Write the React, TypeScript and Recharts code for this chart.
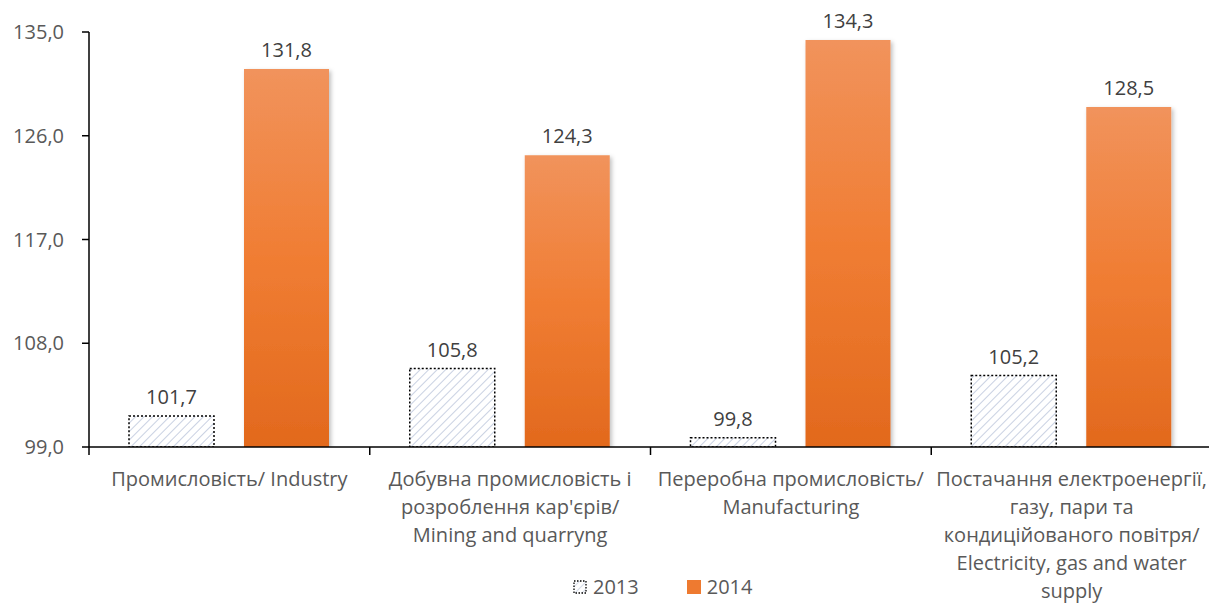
import React from "react";
import { BarChart, Bar, XAxis, YAxis, LabelList } from "recharts";

const categories = [
  "Промисловість/ Industry",
  "Добувна промисловість і розроблення кар'єрів/ Mining and quarryng",
  "Переробна промисловість/ Manufacturing",
  "Постачання електроенергії, газу, пари та кондиційованого повітря/ Electricity, gas and water supply",
];
const categoryLines: string[][] = [
  ["Промисловість/ Industry"],
  ["Добувна промисловість і", "розроблення кар'єрів/", "Mining and quarryng"],
  ["Переробна промисловість/", "Manufacturing"],
  ["Постачання електроенергії,", "газу, пари та", "кондиційованого повітря/", "Electricity, gas and water", "supply"],
];
const seriesNames = ["2013", "2014"];
const values2013 = [101.7, 105.8, 99.8, 105.2];
const values2014 = [131.8, 124.3, 134.3, 128.5];
const yTicks = [99, 108, 117, 126, 135];

const data = categories.map((c, i) => ({ name: c, idx: i, y2013: values2013[i], y2014: values2014[i] }));

const FONT = "'Open Sans', sans-serif";
const FS = 20;
const W = 1217;
const H = 606;
const ML = 89;
const MR = 5;
const BAND = (W - ML - MR) / categories.length;

const fmt = (v: number) => v.toFixed(1).replace(".", ",");

const XTick = (props: any) => {
  const { x, y, payload, index } = props;
  const i0 = payload.index ?? index;
  const lines = categoryLines[i0] || [];
  const left = x - BAND / 2;
  const right = x + BAND / 2;
  const isLast = i0 === categories.length - 1;
  return (
    <g>
      <line x1={left} x2={left} y1={y - 8} y2={y} stroke="#000" strokeWidth={1.5} />
      {isLast && <line x1={right} x2={right} y1={y - 8} y2={y} stroke="#000" strokeWidth={1.5} />}
      <text x={x} y={y} textAnchor="middle" fill="#595959" fontFamily={FONT} fontSize={FS}>
        {lines.map((l, i) => (
          <tspan key={i} x={x} dy={i === 0 ? 30.5 : 28.2}>
            {l}
          </tspan>
        ))}
      </text>
    </g>
  );
};

const LegendBox = () => (
  <div
    style={{
      position: "absolute",
      top: 574,
      left: 573,
      display: "flex",
      fontFamily: FONT,
      fontSize: FS,
      color: "#595959",
      lineHeight: "26px",
      whiteSpace: "nowrap",
    }}
  >
    <svg width={15} height={15} style={{ marginTop: 6, marginRight: 5 }}>
      <defs>
        <pattern id="hatchL" width="5" height="5" patternUnits="userSpaceOnUse" patternTransform="rotate(45)">
          <rect width="5" height="5" fill="#ffffff" />
          <line x1="0" y1="0" x2="0" y2="5" stroke="#C9D1E2" strokeWidth={1.5} />
        </pattern>
      </defs>
      <rect x={1} y={1} width={12} height={12} fill="url(#hatchL)" stroke="#000" strokeWidth={1.3} strokeDasharray="1.5 1.5" />
    </svg>
    <span style={{ marginRight: 48 }}>{seriesNames[0]}</span>
    <svg width={15} height={15} style={{ marginTop: 6, marginRight: 5 }}>
      <rect x={0} y={0} width={14} height={14} fill="#EE7A30" />
    </svg>
    <span>{seriesNames[1]}</span>
  </div>
);

export default function App() {
  return (
    <div style={{ width: W, height: H, position: "relative", margin: "-8px 0 0 -8px" }}>
      <BarChart
        width={W}
        height={H}
        data={data}
        margin={{ top: 32, right: MR, left: 0, bottom: 9 }}
        barGap={30}
        barSize={85}
      >
        <defs>
          <pattern id="hatch" width="6" height="6" patternUnits="userSpaceOnUse" patternTransform="rotate(45)">
            <rect width="6" height="6" fill="#ffffff" />
            <line x1="0" y1="0" x2="0" y2="6" stroke="#C9D1E2" strokeWidth={2} />
          </pattern>
          <linearGradient id="orangeGrad" x1="0" y1="0" x2="0" y2="1">
            <stop offset="0%" stopColor="#F1935C" />
            <stop offset="50%" stopColor="#F07D33" />
            <stop offset="100%" stopColor="#E2691D" />
          </linearGradient>
          <filter id="shadow" x="-20%" y="-20%" width="140%" height="140%">
            <feDropShadow dx="2" dy="2" stdDeviation="2" floodColor="#000" floodOpacity="0.25" />
          </filter>
        </defs>
        <XAxis
          dataKey="name"
          axisLine={{ stroke: "#000", strokeWidth: 1.5 }}
          tickLine={false}
          tick={<XTick />}
          interval={0}
          height={150}
          tickSize={8}
          tickMargin={0}
        />
        <YAxis
          domain={[99, 135]}
          ticks={yTicks}
          width={ML}
          axisLine={{ stroke: "#000", strokeWidth: 1.5 }}
          tickLine={{ stroke: "#000", strokeWidth: 1.5 }}
          tickSize={7}
          tickMargin={18}
          tickFormatter={fmt}
          tick={{ fill: "#595959", fontFamily: FONT, fontSize: FS }}
          allowDataOverflow
        />
        <Bar
          dataKey="y2013"
          name={seriesNames[0]}
          fill="url(#hatch)"
          stroke="#000"
          strokeWidth={1.5}
          strokeDasharray="2 2"
          isAnimationActive={false}
        >
          <LabelList dataKey="y2013" position="top" offset={12} formatter={(v: any) => fmt(Number(v))} fill="#404040" fontFamily={FONT} fontSize={FS} />
        </Bar>
        <Bar dataKey="y2014" name={seriesNames[1]} fill="url(#orangeGrad)" filter="url(#shadow)" isAnimationActive={false}>
          <LabelList dataKey="y2014" position="top" offset={12} formatter={(v: any) => fmt(Number(v))} fill="#404040" fontFamily={FONT} fontSize={FS} />
        </Bar>
      </BarChart>
      <LegendBox />
    </div>
  );
}
